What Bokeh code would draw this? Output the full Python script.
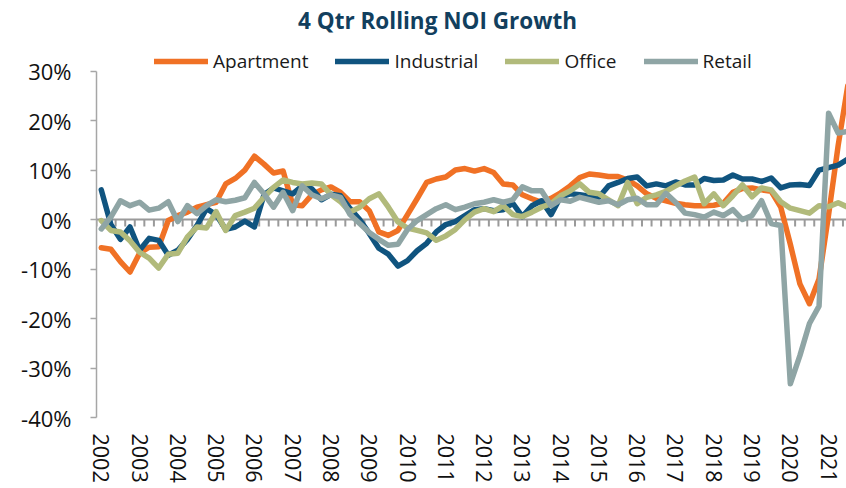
import numpy as np
from bokeh.plotting import figure
from bokeh.models import Range1d, FixedTicker, Legend, LegendItem, Span, Label
from bokeh.embed import file_html
from bokeh.resources import INLINE

# ---------------- data (quarterly, 2002Q1 ...) ----------------
years = [str(y) for y in range(2002, 2022)]

apartment = [-5.7, -6.0, -8.5, -10.6, -6.8, -5.6, -5.5, -0.2, 0.8, 1.5,
             2.5, 3.0, 3.5, 7.2, 8.3, 10.0, 12.8, 11.2, 9.4, 9.8,
             3.0, 2.8, 5.0, 6.0, 6.6, 5.5, 3.6, 3.6, 1.8, -2.5,
             -3.2, -2.2, 1.0, 4.2, 7.5, 8.2, 8.6, 10.0, 10.3, 9.8,
             10.3, 9.5, 7.2, 7.0, 5.0, 4.2, 3.5, 4.3, 5.4, 6.8,
             8.5, 9.2, 9.0, 8.7, 8.7, 8.0, 6.8, 5.2, 4.3, 3.8,
             3.3, 3.0, 2.8, 2.8, 2.9, 3.3, 5.5, 6.3, 6.4, 6.0,
             5.7, 2.5, -5.0, -13.0, -17.0, -12.0, 1.0, 15.0, 27.0]

industrial = [6.0, -1.0, -4.0, -1.5, -6.2, -3.8, -4.2, -7.2, -6.2, -4.0,
              -1.2, 2.2, 1.0, -2.0, -1.5, -0.3, -1.5, 5.0, 6.4, 5.8,
              5.2, 6.8, 6.2, 4.0, 5.1, 4.8, 2.2, 0.0, -2.8, -5.8,
              -7.0, -9.4, -8.3, -6.3, -4.8, -2.5, -1.0, -0.4, 0.8, 2.0,
              2.2, 1.8, 2.0, 3.3, 0.6, 2.8, 3.8, 1.0, 4.6, 5.2,
              5.0, 4.7, 4.5, 6.8, 7.5, 8.3, 8.6, 6.8, 7.2, 6.8,
              7.6, 7.0, 7.0, 8.3, 7.9, 8.0, 9.0, 8.2, 8.2, 7.7,
              8.4, 6.4, 7.0, 7.1, 6.9, 10.0, 10.5, 11.0, 12.2]

office = [-0.2, -2.2, -2.5, -4.3, -6.6, -7.8, -9.8, -7.0, -6.8, -3.5,
          -1.5, -1.7, 1.6, -2.2, 0.8, 1.5, 2.3, 4.5, 6.5, 8.0,
          7.5, 7.2, 7.4, 7.2, 5.0, 3.6, 1.5, 2.5, 4.2, 5.2,
          2.5, -0.5, -1.7, -2.2, -2.7, -4.2, -3.3, -2.0, 0.0, 1.5,
          2.2, 1.6, 2.8, 1.0, 0.6, 1.5, 2.5, 3.2, 4.8, 5.8,
          7.2, 5.5, 5.2, 4.0, 2.8, 7.5, 3.2, 4.5, 5.0, 5.7,
          6.8, 7.8, 8.6, 3.2, 5.2, 2.8, 4.8, 7.0, 4.6, 6.4,
          6.0, 3.6, 2.3, 1.8, 1.3, 2.8, 2.6, 3.4, 2.5]

retail = [-1.9, 0.5, 3.8, 2.8, 3.5, 1.9, 2.3, 3.6, -0.4, 2.8,
          1.2, 2.8, 4.0, 3.6, 3.9, 4.4, 7.5, 5.2, 2.5, 5.5,
          1.8, 6.8, 5.0, 4.2, 5.0, 4.5, 1.0, -0.8, -2.6, -4.0,
          -5.2, -5.0, -2.0, -0.2, 1.0, 2.2, 3.0, 2.0, 2.5, 3.2,
          3.5, 4.0, 3.5, 4.0, 6.6, 5.8, 5.8, 2.8, 4.0, 3.7,
          4.5, 4.0, 3.5, 3.8, 3.0, 4.0, 4.3, 3.0, 3.0, 5.3,
          3.5, 1.3, 1.0, 0.5, 1.5, 0.8, 2.0, 0.0, 0.8, 3.8,
          -0.8, -1.2, -33.2, -27.5, -21.0, -17.5, 21.5, 17.5, 17.8]

series_names = ["Apartment", "Industrial", "Office", "Retail"]
series_values = [apartment, industrial, office, retail]
series_colors = ["#F07125", "#10547F", "#B1BA7B", "#8FA5A5"]
y_ticks = [-40, -30, -20, -10, 0, 10, 20, 30]
title_text = "4 Qtr Rolling NOI Growth"

n = len(apartment)
x = list(range(n))

FONT = "Open Sans"

# ---------------- layout ----------------
W, H = 846, 488
BORDER_L, BORDER_B = 96, 71
frame_h = H - BORDER_B              # frame spans the whole height above the x labels
axis_top_px = 70.6                  # where the 30% tick sits
y_lo, y_hi_axis = -40, 30
px_per_unit = (frame_h - axis_top_px) / (y_hi_axis - y_lo)
y_top = y_lo + frame_h / px_per_unit
x_lo, x_hi = -0.5, 77.87
px_per_x = (W - BORDER_L) / (x_hi - x_lo)

p = figure(width=W, height=H, output_backend="svg", toolbar_location=None,
           x_range=Range1d(x_lo, x_hi), y_range=Range1d(y_lo, y_top),
           min_border_left=BORDER_L, min_border_right=0, min_border_top=0,
           min_border_bottom=BORDER_B)
p.outline_line_color = None
p.xgrid.visible = False
p.ygrid.visible = False
p.background_fill_color = "white"
p.border_fill_color = "white"

# title (placed inside the frame, above the axis top)
p.add_layout(Label(x=x_lo + (437 - BORDER_L) / px_per_x, y=y_top - 20 / px_per_unit,
                   text=title_text, text_align="center", text_baseline="middle",
                   text_font=FONT, text_font_style="bold", text_font_size="22.5px",
                   text_color="#123F5E"))

# zero line with category tick marks
p.add_layout(Span(location=0, dimension="width", line_color="#9A9A9A", line_width=2, level="underlay"))
bounds = np.arange(n + 1) - 0.5
p.segment(x0=bounds, y0=0, x1=bounds, y1=-7 / px_per_unit, line_color="#9A9A9A",
          line_width=2, level="underlay")

renderers = []
for name, vals, col in zip(series_names, series_values, series_colors):
    r = p.line(x, vals, line_color=col, line_width=5.5, line_join="round", line_cap="round")
    renderers.append((name, r))

legend = Legend(items=[LegendItem(label=nm, renderers=[r]) for nm, r in renderers],
                orientation="horizontal", location=(58, frame_h - 74),
                glyph_width=54, glyph_height=20, label_standoff=5, spacing=27,
                padding=0, margin=0, border_line_color=None, background_fill_alpha=0,
                label_text_font=FONT, label_text_font_size="19px", label_text_color="#1a1a1a")
p.add_layout(legend)

# y axis
ya = p.yaxis[0]
ya.bounds = (y_lo, y_hi_axis)
ya.ticker = FixedTicker(ticks=y_ticks)
ya.major_label_overrides = {v: f"{v}%" for v in y_ticks}
ya.axis_line_color = "#A6A6A6"
ya.axis_line_width = 1.5
ya.major_tick_line_color = "#A6A6A6"
ya.major_tick_line_width = 1.5
ya.major_tick_out = 6
ya.major_tick_in = 0
ya.minor_tick_line_color = None
ya.major_label_standoff = 19
ya.major_label_text_font = FONT
ya.major_label_text_font_size = "22px"
ya.major_label_text_color = "#111111"

# x axis (year labels every 4 quarters)
xa = p.xaxis[0]
year_pos = list(range(0, 4 * len(years), 4))
xa.ticker = FixedTicker(ticks=year_pos)
xa.major_label_overrides = {pos: yr for pos, yr in zip(year_pos, years)}
xa.major_label_orientation = "vertical"
xa.axis_line_color = None
xa.major_tick_line_color = None
xa.minor_tick_line_color = None
xa.major_tick_out = 0
xa.major_label_standoff = 16
xa.major_label_text_font = FONT
xa.major_label_text_font_size = "21.5px"
xa.major_label_text_color = "#111111"

open("out.html", "w").write(file_html(p, INLINE))
